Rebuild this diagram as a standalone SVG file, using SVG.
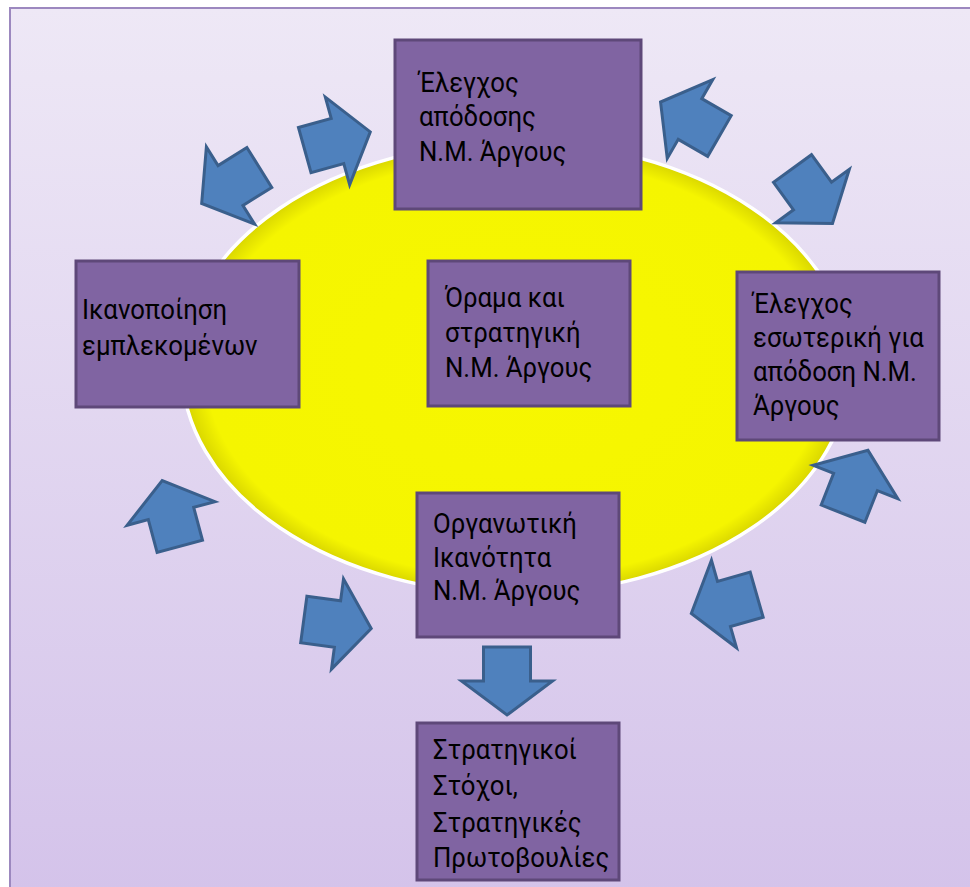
<svg xmlns="http://www.w3.org/2000/svg" width="970" height="887" viewBox="0 0 970 887">
  <defs>
    <linearGradient id="bg" x1="0" y1="0" x2="0" y2="1">
      <stop offset="0" stop-color="#EEE8F6"/>
      <stop offset="1" stop-color="#D4C3EA"/>
    </linearGradient>
    <radialGradient id="sun" cx="0.5" cy="0.5" r="0.5">
      <stop offset="0" stop-color="#F7F700"/>
      <stop offset="0.93" stop-color="#F5F500"/>
      <stop offset="1" stop-color="#D9D600"/>
    </radialGradient>
    <!-- block arrow pointing along +x, centred on the origin -->
    <polygon id="blk" points="-34,-23.5 0,-23.5 0,-45.5 34,0 0,45.5 0,23.5 -34,23.5"/>
  </defs>
  <style>
    .box { fill: #8064A2; stroke: #5E4879; stroke-width: 3; }
    .t { font-family: Roboto, "Liberation Sans", "DejaVu Sans", sans-serif; font-size: 28px; fill: #000; }
    .arr use { fill: #4F81BD; stroke: #3A5F8C; stroke-width: 3; stroke-linejoin: miter; }
  </style>

  <rect x="0" y="0" width="970" height="887" fill="#FFFFFF"/>
  <rect x="10" y="8" width="966" height="884" fill="url(#bg)" stroke="#9C88BF" stroke-width="2"/>

  <ellipse id="core" cx="516" cy="368" rx="334" ry="226" fill="url(#sun)" stroke="#FFFFFF" stroke-width="3.5"/>

  <g id="connectors" class="arr">
    <use href="#blk" transform="translate(230.5,185.5) rotate(148)"/>
    <use href="#blk" transform="translate(337.5,141) rotate(-15.5)"/>
    <use href="#blk" transform="translate(690,119) rotate(-150)"/>
    <use href="#blk" transform="translate(812.5,196) rotate(54)"/>
    <use href="#blk" transform="translate(855.5,482) rotate(-68.5)"/>
    <use href="#blk" transform="translate(724,604) rotate(164)"/>
    <use href="#blk" transform="translate(337.5,624) rotate(7.6)"/>
    <use href="#blk" transform="translate(171,513.5) rotate(-105)"/>
    <use href="#blk" transform="translate(507,681) rotate(90)"/>
  </g>

  <g id="elegxos-apodosis">
    <rect class="box" x="395" y="40" width="246" height="169"/>
    <text class="t" transform="translate(419,92) scale(0.92 1)"><tspan x="0" y="0">Έλεγχος</tspan><tspan x="0" y="34.5">απόδοσης</tspan><tspan x="0" y="69">N.M. Άργους</tspan></text>
  </g>

  <g id="ikanopoiisi">
    <rect class="box" x="76" y="261" width="223" height="146"/>
    <text class="t" transform="translate(82,319) scale(0.92 1)"><tspan x="0" y="0">Ικανοποίηση</tspan><tspan x="0" y="36">εμπλεκομένων</tspan></text>
  </g>

  <g id="orama">
    <rect class="box" x="428" y="261" width="202" height="145"/>
    <text class="t" transform="translate(445,307) scale(0.92 1)"><tspan x="0" y="0">Όραμα και</tspan><tspan x="0" y="35">στρατηγική</tspan><tspan x="0" y="70">N.M. Άργους</tspan></text>
  </g>

  <g id="elegxos-esoteriki">
    <rect class="box" x="737" y="272" width="202" height="168"/>
    <text class="t" transform="translate(753,313) scale(0.92 1)"><tspan x="0" y="0">Έλεγχος</tspan><tspan x="0" y="34">εσωτερική για</tspan><tspan x="0" y="68">απόδοση N.M.</tspan><tspan x="0" y="102">Άργους</tspan></text>
  </g>

  <g id="organotiki">
    <rect class="box" x="417" y="493" width="202" height="144"/>
    <text class="t" transform="translate(433,533) scale(0.92 1)"><tspan x="0" y="0">Οργανωτική</tspan><tspan x="0" y="34">Ικανότητα</tspan><tspan x="0" y="67">N.M. Άργους</tspan></text>
  </g>

  <g id="stoxoi">
    <rect class="box" x="417" y="723" width="202" height="157"/>
    <text class="t" transform="translate(433,759) scale(0.92 1)"><tspan x="0" y="0">Στρατηγικοί</tspan><tspan x="0" y="36">Στόχοι,</tspan><tspan x="0" y="73">Στρατηγικές</tspan><tspan x="0" y="108">Πρωτοβουλίες</tspan></text>
  </g>
</svg>
